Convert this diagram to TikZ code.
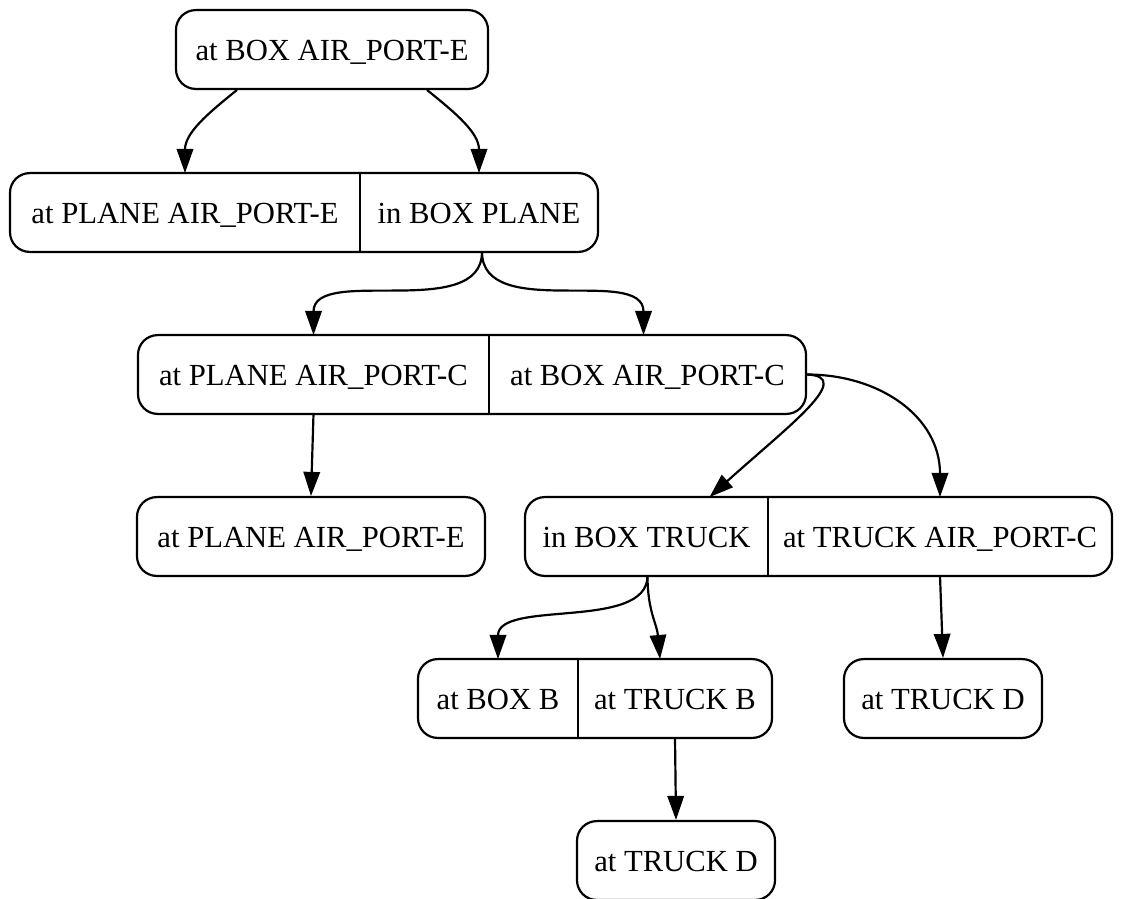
\documentclass[tikz,border=0pt]{standalone}
\usepackage{fontspec}
\setmainfont{Liberation Serif}
\usetikzlibrary{arrows.meta,calc}
\begin{document}
\begin{tikzpicture}[
    x=0.4566pt, y=-0.4566pt,
    font=\fontsize{14pt}{16pt}\selectfont,
    rec/.style={draw, line width=1pt, rounded corners=9pt, inner sep=0pt,
                text height=13pt, text depth=3pt,
                minimum height=36pt, minimum width=#1*0.4566pt},
    field/.style={inner sep=0pt, outer sep=0pt,
                  text height=13pt, text depth=3pt,
                  minimum height=36pt, minimum width=#1*0.4566pt},
    divider/.style={line width=1pt},
    link/.style={line width=1pt, -{Triangle[length=11pt,width=7.5pt]}}
  ]
  \useasboundingbox (0,0) rectangle (1123,898);

  % single states
  \node[rec=312] (n1) at (332,49.5) {at BOX AIR\_PORT-E};
  \node[rec=348] (n4) at (311,536.5) {at PLANE AIR\_PORT-E};
  \node[rec=198] (n7) at (943,698.5) {at TRUCK D};
  \node[rec=198] (n8) at (676,860.5) {at TRUCK D};

  % two-field records
  \node[rec=588] (n2) at (304,212.5) {};
  \node[field=350] (n2a) at (185,212.5) {at PLANE AIR\_PORT-E};
  \node[field=238] (n2b) at (479,212.5) {in BOX PLANE};
  \draw[divider] (n2a.north east) -- (n2a.south east);

  \node[rec=668] (n3) at (472,374.5) {};
  \node[field=351] (n3a) at (313.5,374.5) {at PLANE AIR\_PORT-C};
  \node[field=317] (n3b) at (647.5,374.5) {at BOX AIR\_PORT-C};
  \draw[divider] (n3a.north east) -- (n3a.south east);

  \node[rec=587] (n5) at (818.5,536.5) {};
  \node[field=243] (n5a) at (646.5,536.5) {in BOX TRUCK};
  \node[field=344] (n5b) at (940,536.5) {at TRUCK AIR\_PORT-C};
  \draw[divider] (n5a.north east) -- (n5a.south east);

  \node[rec=354] (n6) at (595,698.5) {};
  \node[field=160] (n6a) at (498,698.5) {at BOX B};
  \node[field=194] (n6b) at (675,698.5) {at TRUCK B};
  \draw[divider] (n6a.north east) -- (n6a.south east);

  % transitions
  \draw[link] ($(n1.south)+(-95,0)$) .. controls +(-30,24) and +(0,-40) .. (n2a.north);
  \draw[link] ($(n1.south)+(95,0)$) .. controls +(30,24) and +(0,-40) .. (n2b.north);
  \draw[link] ($(n2b.south)+(3,0)$) .. controls +(0,70) and +(0,-70) .. (n3a.north);
  \draw[link] ($(n2b.south)+(3,0)$) .. controls +(0,70) and +(0,-70) .. ($(n3b.north)+(-4,0)$);
  \draw[link] (n3a.south) -- (n4.north);
  \draw[link] (n3.east) .. controls +(48,2) and +(80,-72) .. ($(n5a.north)+(63,0)$);
  \draw[link] (n3.east) .. controls +(73,0) and +(0,-80) .. (n5b.north);
  \draw[link] ($(n5a.south)+(1,0)$) .. controls +(0,55) and +(0,-60) .. (n6a.north);
  \draw[link] ($(n5a.south)+(1,0)$) .. controls +(0,35) and +(-3,-35) .. ($(n6b.north)+(-15,0)$);
  \draw[link] (n5b.south) -- (n7.north);
  \draw[link] (n6b.south) -- (n8.north);
\end{tikzpicture}
\end{document}
